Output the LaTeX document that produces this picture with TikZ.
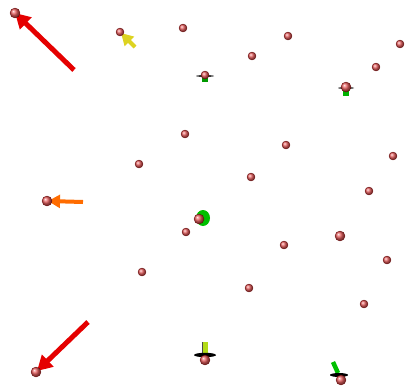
\documentclass[tikz,border=0pt]{standalone}
\usetikzlibrary{arrows.meta}

\begin{document}
\begin{tikzpicture}[
    x=1pt, y=-1pt,
    ball/.style={circle, inner sep=0pt, minimum size=8pt, shading=ball,
        ball color=red!60!white!90!black, draw=red!40!black, line width=0.3pt},
    bigball/.style={ball, minimum size=10pt},
    vec/.style={line width=#1, -{Triangle[width=3.2*#1, length=3*#1]}},
    vec/.default=4pt
]
\useasboundingbox (0,0) rectangle (414,386);

% Points with no visible vector
\foreach \px/\py/\n in {183/28/p3, 288/36/p4, 400/44/p5, 252/56/p6,
    376/67/p7, 185/134/p10, 286/145/p11, 139/164/p12, 393/156/p13,
    251/177/p14, 369/191/p15, 186/232/p18, 284/245/p20, 387/260/p21,
    142/272/p22, 249/288/p23, 364/304/p24} {
  \node[ball] (\n) at (\px,\py) {};
}
\node[bigball] (p19) at (340,236) {};

% Vectors in the picture plane
\coordinate (t1) at (74,70);
\coordinate (t2) at (135,47);
\coordinate (t16) at (83,202);
\coordinate (t27) at (88,322);
\draw[vec=5pt, red!90!black] (t1) -- (15,13);
\node[bigball] (p1) at (15,13) {};
\draw[vec=4pt, yellow!85!black] (t2) -- (121,33);
\node[ball] (p2) at (120,32) {};
\draw[vec=4pt, orange!85!red] (t16) -- (48,201);
\node[bigball] (p16) at (47,201) {};
\draw[vec=5pt, red!90!black] (t27) -- (37,371);
\node[bigball] (p27) at (36,372) {};

% Vectors pointing out of the plane
\fill[green!60!black] (202,75) rectangle (208,82);
\fill[black!80] (205,76) ellipse (9pt and 1pt);
\node[ball] (p8) at (205,75) {};

\fill[green!70!black] (343,87) rectangle (349,96);
\fill[black!80] (346,88) ellipse (8pt and 1pt);
\node[bigball] (p9) at (346,87) {};

\fill[green!75!black] (203,218) ellipse (7pt and 8pt);
\node[bigball] (p17) at (199,219) {};

\coordinate (t25) at (205,342);
\draw[line width=5pt, yellow!70!green] (t25) -- (205,355);
\draw[line width=0.4pt, black!70] (202.5,342) -- (202.5,355);
\fill[black] (205,355) ellipse (11pt and 2.2pt);
\node[bigball] (p25) at (205,360) {};

\coordinate (t26) at (333,362);
\draw[line width=4.5pt, green!75!black] (t26) -- (338,373);
\fill[black] (339,375) ellipse (9pt and 2pt);
\node[bigball] (p26) at (341,380) {};

\end{tikzpicture}
\end{document}
